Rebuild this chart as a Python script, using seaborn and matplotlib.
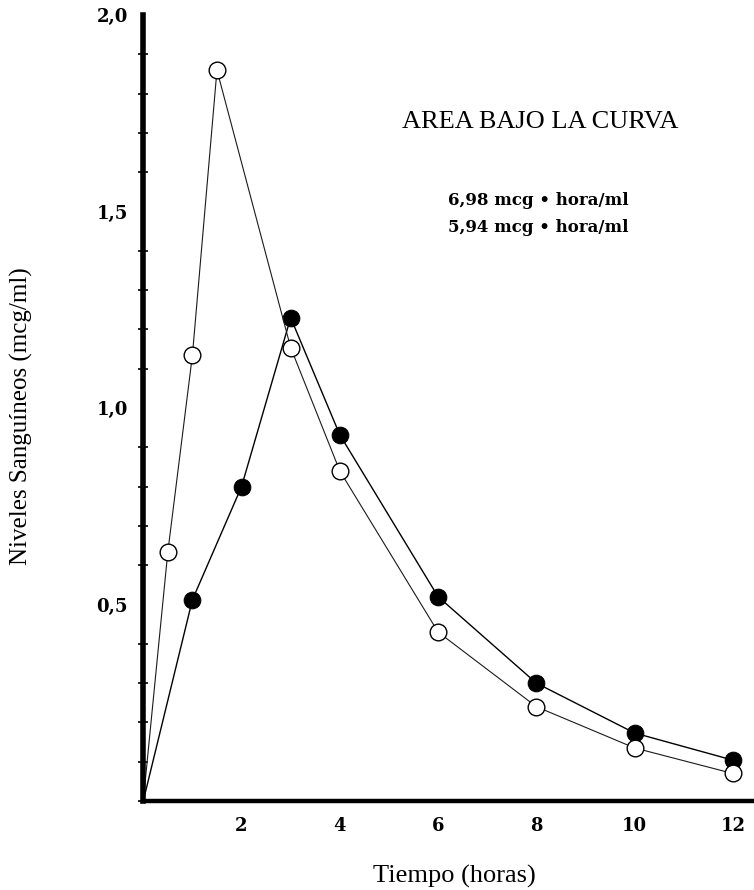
import numpy as np
import pandas as pd
import seaborn as sns
import matplotlib.pyplot as plt
from matplotlib.ticker import MultipleLocator

# tiempos (horas) y niveles (mcg/ml)
t_abiertos = [0, 0.5, 1, 1.5, 3, 4, 6, 8, 10, 12]
niv_abiertos = [0, 0.634, 1.134, 1.86, 1.154, 0.84, 0.43, 0.24, 0.135, 0.07]

t_llenos = [0, 1, 2, 3, 4, 6, 8, 10, 12]
niv_llenos = [0, 0.512, 0.80, 1.23, 0.932, 0.52, 0.30, 0.173, 0.104]

xticks = [2, 4, 6, 8, 10, 12]
yticks = [0.5, 1.0, 1.5, 2.0]
ytick_labels = ["0,5", "1,0", "1,5", "2,0"]

sns.set_style("white")
plt.rcParams['font.family'] = ['Liberation Serif', 'DejaVu Serif']
plt.rcParams['text.color'] = 'black'
plt.rcParams['axes.labelcolor'] = 'black'
plt.rcParams['xtick.color'] = 'black'
plt.rcParams['ytick.color'] = 'black'
plt.rcParams['axes.edgecolor'] = 'black'

df_a = pd.DataFrame({'t': t_abiertos, 'nivel': niv_abiertos})
df_l = pd.DataFrame({'t': t_llenos, 'nivel': niv_llenos})

fig = plt.figure(figsize=(7.54, 8.90), dpi=100)
ax = fig.add_axes([0.19, 0.10, 0.81, 0.883])

sns.lineplot(data=df_l, x='t', y='nivel', ax=ax, color='black', linewidth=1.0,
             marker='o', markersize=12, markerfacecolor='black', markeredgecolor='black',
             markevery=list(range(1, len(t_llenos))))
sns.lineplot(data=df_a, x='t', y='nivel', ax=ax, color='#1a1a1a', linewidth=0.8,
             marker='o', markersize=12, markerfacecolor='white', markeredgecolor='black',
             markeredgewidth=1.0, markevery=list(range(1, len(t_abiertos))))

ax.set_xlim(0, 12.43)
ax.set_ylim(0, 2.0)

ax.spines['top'].set_visible(False)
ax.spines['right'].set_visible(False)
ax.spines['left'].set_linewidth(4.0)
ax.spines['bottom'].set_linewidth(3.2)

ax.set_xticks(xticks)
ax.set_xticklabels([str(v) for v in xticks], fontsize=13, fontweight='bold',
                   family=['DejaVu Serif'])
ax.set_yticks(yticks)
ax.set_yticklabels(ytick_labels, fontsize=13, fontweight='bold', family=['DejaVu Serif'])
ax.yaxis.set_minor_locator(MultipleLocator(0.1))
ax.tick_params(axis='both', which='both', direction='inout')
ax.tick_params(axis='y', which='major', length=10, width=1.2, pad=6)
ax.tick_params(axis='y', which='minor', length=7, width=1.2, left=True)
ax.tick_params(axis='x', which='major', length=7, width=1.2, pad=8)

ax.set_xlabel("Tiempo (horas)", fontsize=19, va='center', ha='center')
ax.xaxis.set_label_coords(0.51, -0.0955)
ax.set_ylabel("Niveles Sanguíneos (mcg/ml)", fontsize=18, va='center', ha='center')
ax.yaxis.set_label_coords(-0.2, 0.49)

fig.text(0.716, 0.863, "AREA BAJO LA CURVA", fontsize=19, ha='center', va='center')
fig.text(0.714, 0.775, "6,98 mcg • hora/ml", fontsize=12, fontweight='bold',
         ha='center', va='center', family=['DejaVu Serif'])
fig.text(0.714, 0.744, "5,94 mcg • hora/ml", fontsize=12, fontweight='bold',
         ha='center', va='center', family=['DejaVu Serif'])

fig.savefig("out.png", dpi=100)
